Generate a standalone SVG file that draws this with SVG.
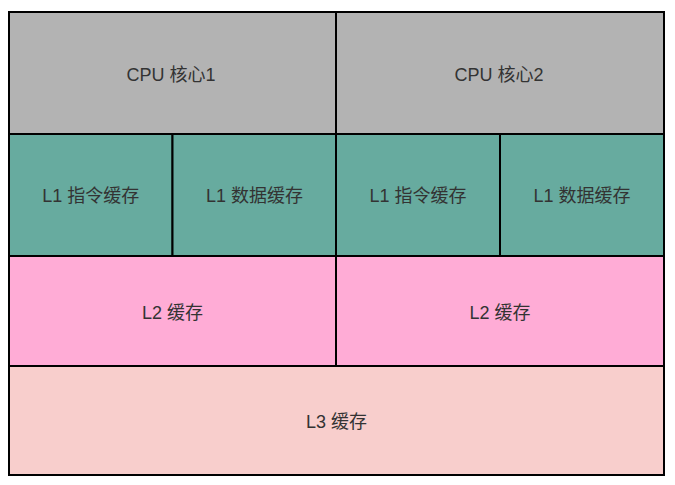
<svg xmlns="http://www.w3.org/2000/svg" width="675" height="485" viewBox="0 0 675 485">
<style>
rect{stroke:#000;stroke-width:2}
.cpu{fill:#b3b3b3}
.l1{fill:#67ab9f}
.l2{fill:#ffacd6}
.l3{fill:#f8cecc}
text{font-family:"Liberation Sans","Noto Sans CJK SC",sans-serif;font-size:18px;fill:#333;text-anchor:middle;dominant-baseline:central}
</style>
<rect width="675" height="485" fill="#fff" style="stroke:none"/>
<g id="cpu1"><rect class="cpu" x="9" y="12" width="327" height="122"/><text x="171" y="75">CPU 核心1</text></g>
<g id="cpu2"><rect class="cpu" x="336" y="12" width="328" height="122"/><text x="499" y="75">CPU 核心2</text></g>
<g id="l1i-1"><rect class="l1" x="9" y="134" width="163.5" height="122"/><text x="90.75" y="196">L1 指令缓存</text></g>
<g id="l1d-1"><rect class="l1" x="172.5" y="134" width="163.5" height="122"/><text x="254.5" y="196">L1 数据缓存</text></g>
<g id="l1i-2"><rect class="l1" x="336" y="134" width="164" height="122"/><text x="418" y="196">L1 指令缓存</text></g>
<g id="l1d-2"><rect class="l1" x="500" y="134" width="164" height="122"/><text x="582" y="196">L1 数据缓存</text></g>
<g id="l2-1"><rect class="l2" x="9" y="256" width="327" height="110"/><text x="172.5" y="313">L2 缓存</text></g>
<g id="l2-2"><rect class="l2" x="336" y="256" width="328" height="110"/><text x="500" y="313">L2 缓存</text></g>
<g id="l3"><rect class="l3" x="9" y="366" width="655" height="109"/><text x="336.5" y="422">L3 缓存</text></g>
<g id="connectors"/>
</svg>
